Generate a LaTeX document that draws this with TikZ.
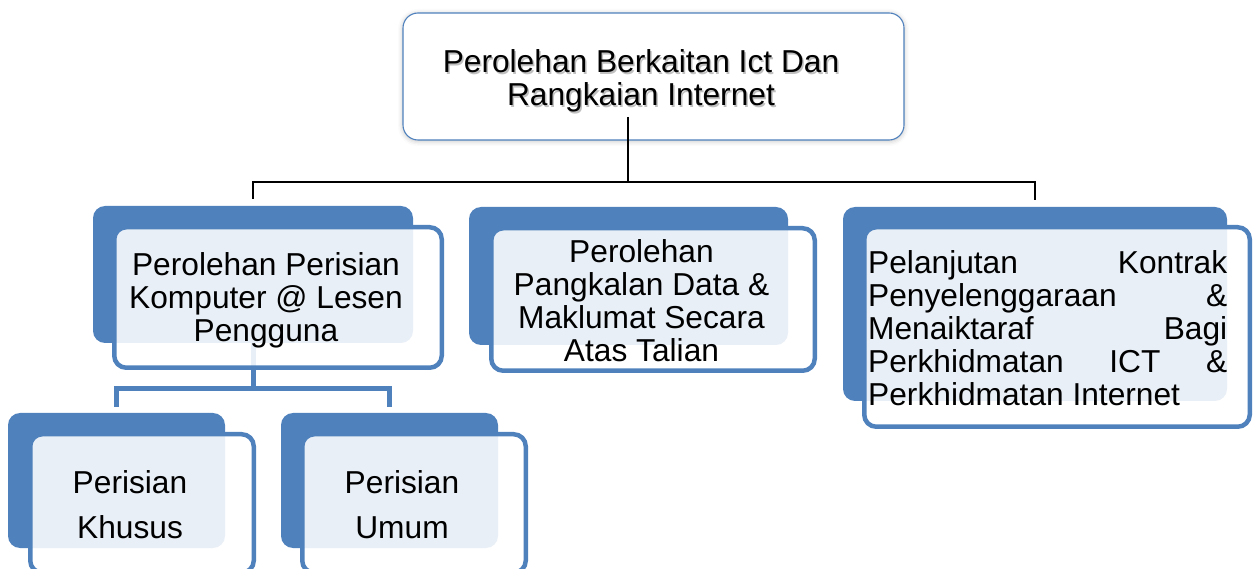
\documentclass[tikz,border=0pt]{standalone}
\usepackage{fontspec}
\setmainfont{Liberation Sans}
\usetikzlibrary{shadows.blur}
\definecolor{obl}{HTML}{4F81BD}
\tikzset{
  backbox/.style={fill=obl, rounded corners=12pt, inner sep=0pt},
  frontbox/.style={draw=obl, line width=4.5pt, fill=white, fill opacity=0.88, rounded corners=12pt, inner sep=0pt},
  topbox/.style={draw=obl, line width=1.1pt, fill=white, rounded corners=15pt, inner sep=0pt,
    blur shadow={shadow xshift=0pt, shadow yshift=-1pt, shadow blur radius=5pt, shadow opacity=25}},
  lbl/.style={text=black, align=center, inner sep=0pt, font=\fontsize{31.7}{33}\selectfont},
  lblwide/.style={text=black, align=center, inner sep=0pt, font=\fontsize{31.7}{45}\selectfont},
  glow/.style={text=black!70, text opacity=0.35, align=center, inner sep=0pt, font=\fontsize{31.7}{33}\selectfont},
  conn/.style={draw=obl, line width=5pt},
  bconn/.style={draw=black, line width=1.6pt},
}
\begin{document}
\begin{tikzpicture}[x=1pt,y=-1pt]
\useasboundingbox (0,0) rectangle (1254,569);
\clip (0,0) rectangle (1254,569);

% top box
\node[topbox, minimum width=501pt, minimum height=127pt] (top) at (653.5,76.5) {};
\coordinate (stem) at (628,117);

% back boxes
\node[backbox, minimum width=320pt, minimum height=137pt] (b1) at (253,274.5) {};
\node[backbox, minimum width=319pt, minimum height=138pt] (b2) at (628.5,276) {};
\node[backbox, minimum width=384pt, minimum height=194pt] (b3) at (1035,304) {};
\node[backbox, minimum width=217pt, minimum height=135pt] (bk) at (116.5,480.5) {};
\node[backbox, minimum width=217pt, minimum height=135pt] (bu) at (389.5,480.5) {};

% black connectors
\draw[bconn] (stem) -- ++(0,66);
\draw[bconn] ([yshift=7pt]b1.north) -- ++(0,-17) -| ([yshift=7pt]b3.north);

% blue connectors
\draw[conn] (b1.south) -- (253,389) -| ([yshift=6pt]bk.north);
\draw[conn] (253,389) -| ([yshift=6pt]bu.north);

% front boxes
\node[frontbox, minimum width=327.5pt, minimum height=140.5pt] (f1) at (278,297.5) {};
\node[frontbox, minimum width=323.5pt, minimum height=142.5pt] (f2) at (653,299.5) {};
\node[frontbox, minimum width=385.5pt, minimum height=199.5pt] (f3) at (1057,327) {};
\node[frontbox, minimum width=223.5pt, minimum height=138.5pt] (fk) at (142,503.5) {};
\node[frontbox, minimum width=223.5pt, minimum height=138.5pt] (fu) at (414,503.5) {};

% texts
\node[glow] (tg) at (642.5,82.5) {Perolehan Berkaitan Ict Dan\\Rangkaian Internet};
\node[lbl] (tt) at (641,81) {Perolehan Berkaitan Ict Dan\\Rangkaian Internet};
\node[lbl] (t1) at (266,300) {Perolehan Perisian\\Komputer @ Lesen\\Pengguna};
\node[lbl] (t2) at (641.5,301) {Perolehan\\Pangkalan Data \&\\Maklumat Secara\\Atas Talian};
\node[lbl, align=left, anchor=west] (t3) at (868,328) {\hbox to 359pt{Pelanjutan\hfill Kontrak}\\
\hbox to 359pt{Penyelenggaraan\hfill \&}\\
\hbox to 359pt{Menaiktaraf\hfill Bagi}\\
\hbox to 359pt{Perkhidmatan\hfill ICT\hfill \&}\\
Perkhidmatan Internet};
\node[lblwide] (tk) at (130,505) {Perisian\\Khusus};
\node[lblwide] (tu) at (402,505) {Perisian\\Umum};
\end{tikzpicture}
\end{document}
